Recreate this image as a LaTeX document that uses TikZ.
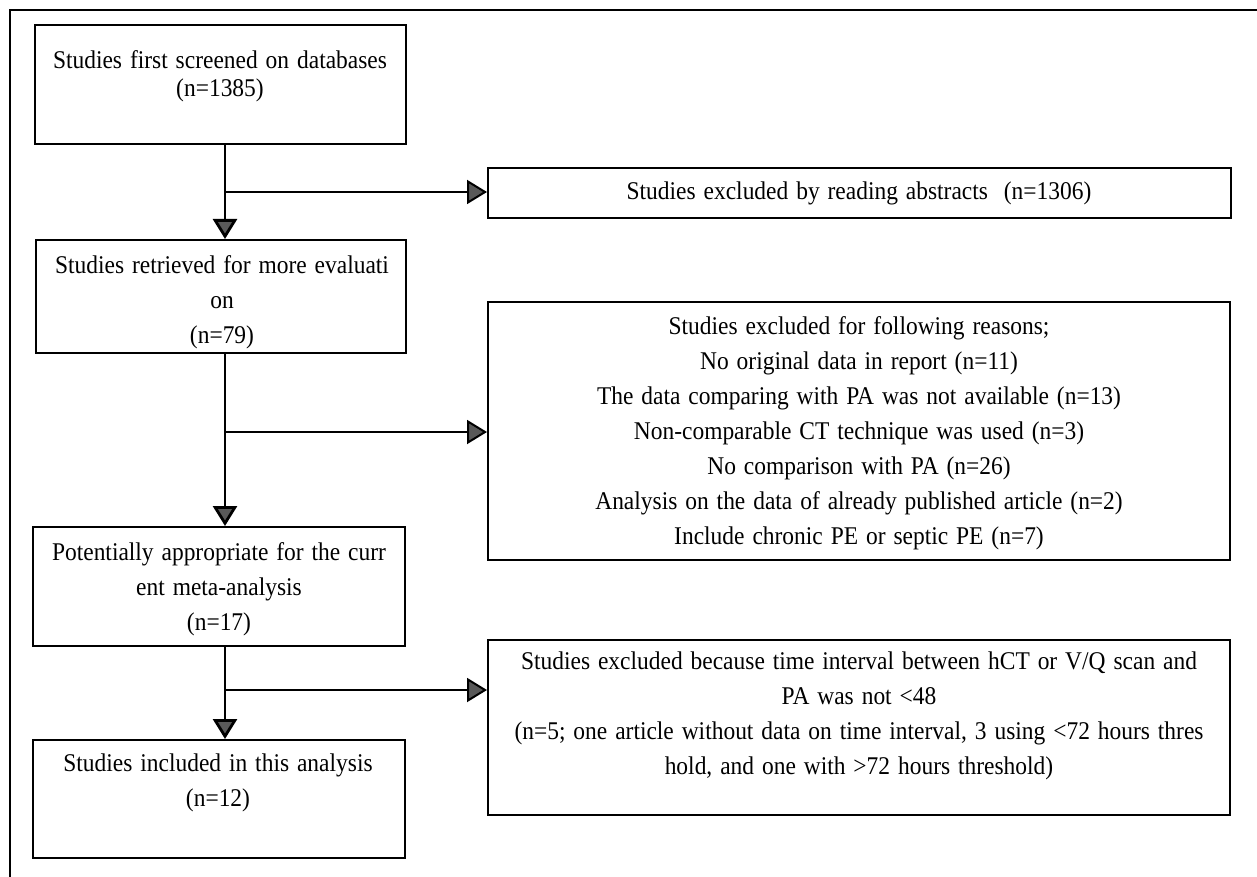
\documentclass[tikz,border=0pt]{standalone}
\usepackage{fontspec}
\setmainfont[FakeStretch=0.92, WordSpace=1.35]{Liberation Serif}
\usetikzlibrary{arrows.meta}
\begin{document}
\begin{tikzpicture}[x=1pt,y=-1pt,
  box/.style={draw=black, line width=2pt, inner sep=0pt, fill=white},
  txt/.style={align=center, inner sep=0pt, font=\fontsize{25.5}{35}\selectfont},
  txtb/.style={align=center, inner sep=0pt, font=\fontsize{25.5}{28}\selectfont},
  frame/.style={draw=black, line width=2pt},
  tip/.style={-{Triangle[width=24pt,length=20pt,fill=black!65]}},
  vflow/.style={draw=black, line width=2.8pt, tip},
  hflow/.style={draw=black, line width=2pt, tip}
]
\useasboundingbox (0,0) rectangle (1257,877);
\fill[white] (0,0) rectangle (1257,877);
% outer frame (top and left sides)
\coordinate (fbl) at (10,877);
\coordinate (ftl) at (10,10);
\coordinate (ftr) at (1257,10);
\draw[frame] (fbl) -- (ftl) -- (ftr);

% left boxes
\node[box, minimum width=371pt, minimum height=119pt] (b1) at (220.5,84.5) {};
\node[box, minimum width=370pt, minimum height=113pt] (b2) at (221,296.5) {};
\node[box, minimum width=372pt, minimum height=119pt] (b4) at (219,586.5) {};
\node[box, minimum width=372pt, minimum height=118pt] (b6) at (219,799) {};
% right boxes
\node[box, minimum width=743pt, minimum height=50pt] (b3) at (859.5,193) {};
\node[box, minimum width=742pt, minimum height=258pt] (b5) at (859,431) {};
\node[box, minimum width=742pt, minimum height=175pt] (b7) at (859,727.5) {};

% texts
\node[txtb] (t1) at (220,76) {Studies first screened on databases\\(n=1385)};
\node[txt] (t2) at (222,302) {Studies retrieved for more evaluati\\on\\(n=79)};
\node[txt] (t4) at (219,589) {Potentially appropriate for the curr\\ent meta-analysis\\(n=17)};
\node[txt] (t6) at (218,783) {Studies included in this analysis\\(n=12)};
\node[txt] (t3) at (859,193) {Studies excluded by reading abstracts \ (n=1306)};
\node[txt] (t5) at (859,433) {Studies excluded for following reasons;\\
No original data in report (n=11)\\
The data comparing with PA was not available (n=13)\\
Non-comparable CT technique was used (n=3)\\
No comparison with PA (n=26)\\
Analysis on the data of already published article (n=2)\\
Include chronic PE or septic PE (n=7)};
\node[txt] (t7) at (859,716) {Studies excluded because time interval between hCT or V/Q scan and\\
PA was not <48\\
(n=5; one article without data on time interval, 3 using <72 hours thres\\
hold, and one with >72 hours threshold)};

% connectors
\coordinate (ax) at (225,0);
\coordinate (j1) at (225,192);
\coordinate (j2) at (225,432);
\coordinate (j3) at (225,690);
\draw[vflow] (b1.south -| ax) -- (b2.north -| ax);
\draw[vflow] (b2.south -| ax) -- (b4.north -| ax);
\draw[vflow] (b4.south -| ax) -- (b6.north -| ax);
\draw[hflow] (j1) -- (b3.west |- j1);
\draw[hflow] (j2) -- (b5.west |- j2);
\draw[hflow] (j3) -- (b7.west |- j3);
\end{tikzpicture}
\end{document}
